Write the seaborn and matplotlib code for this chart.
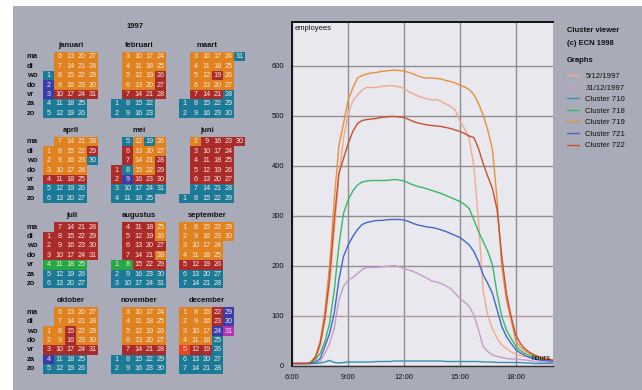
import calendar
import datetime
import numpy as np
import pandas as pd
import matplotlib
matplotlib.use("Agg")
import matplotlib.pyplot as plt
from matplotlib.colors import ListedColormap
from matplotlib.patches import Rectangle
import seaborn as sns

sns.set_style("white")
plt.rcParams['font.family'] = ['Liberation Sans', 'DejaVu Sans']

# ---------------- data ----------------
YEAR = 1997
month_names = ["januari", "februari", "maart", "april", "mei", "juni",
               "juli", "augustus", "september", "oktober", "november", "december"]
weekday_labels = ["ma", "di", "wo", "do", "vr", "za", "zo"]

# cluster of every day, one letter per day (T=710, G=718, O=719, B=721, R=722, S=5/12, M=31/12)
day_clusters = [
    "TBBTT" "OOOORTT" "OOOORTT" "OOOORTT" "OOOOR",          # jan
    "TT" "OOOORTT" "OOOORTT" "OOOORTT" "OORRR",             # feb
    "TT" "OOOORTT" "OOOORTT" "OORORTT" "OOOOTTT" "T",       # maa
    "OOORTT" "OOOORTT" "OOOORTT" "OOOORTT" "ORT",           # apr
    "RRTT" "TRRTBTT" "OOOORTT" "TOOORTT" "OORRRT",          # mei
    "T" "ORRRRTT" "RRRRRTT" "RRRRRTT" "RRRRRTT" "R",        # jun
    "RRRGTT" "RRRRGTT" "RRRRGTT" "RRRRGTT" "RRRR",          # jul
    "GTT" "RRRRGTT" "RRRRRTT" "RRRRRTT" "OOROR" "TT",       # aug
    "OOOORTT" "OOOORTT" "OOOORTT" "OOOORTT" "OO",           # sep
    "OORBT" "OOOORTT" "OORRRTT" "OOOORTT" "OOOOR",          # okt
    "TT" "OOOORTT" "OOOORTT" "OOOORTT" "OOOORTT",           # nov
    "OOOOSTT" "OOOORTT" "OOOORTT" "RRBTTTT" "BBM",          # dec
]
code_letters = ["T", "G", "O", "B", "R", "S", "M"]
cell_colors = ["#1b7a98", "#26a844", "#e0821f", "#3b3cab", "#ab2a2a", "#ef4020", "#b034b4"]

series_names = ["5/12/1997", "31/12/1997", "Cluster 710", "Cluster 718",
                "Cluster 719", "Cluster 721", "Cluster 722"]
line_colors = ["#f2a98a", "#c99bcd", "#3a8fb0", "#38b868", "#e8903c", "#4466c8", "#c8502e"]

hours = np.arange(6.0, 20.01, 0.25)
s_0512 = [5, 5, 5, 5, 7, 15, 40, 92, 165, 270, 380, 455, 505, 530, 542, 552,
          557, 557, 557, 559, 560, 561, 560, 558, 555, 549, 544, 540, 537, 534, 532, 533,
          529, 524, 519, 512, 490, 475, 455, 400, 290, 150, 100, 75, 55, 42, 35, 28,
          24, 21, 19, 18, 16, 15, 14, 13, 12]
s_3112 = [5, 5, 5, 5, 5, 6, 10, 25, 45, 75, 132, 159, 172, 177, 185, 193,
          197, 197, 197, 198, 199, 200, 201, 198, 195, 192, 189, 185, 180, 175, 170, 168,
          165, 160, 155, 145, 135, 128, 119, 102, 72, 39, 29, 22, 19, 17, 15, 14,
          14, 13, 12, 11, 9, 8, 8, 7, 7]
s_710 = [5, 5, 5, 5, 5, 5, 6, 8, 11, 7, 6, 7, 8, 8, 8, 8,
         8, 8, 9, 9, 9, 9, 10, 10, 10, 10, 10, 10, 10, 10, 10, 10,
         10, 9, 9, 9, 9, 9, 9, 9, 9, 8, 8, 8, 7, 7, 7, 7,
         7, 7, 6, 6, 5, 5, 5, 5, 5]
s_718 = [5, 5, 5, 5, 6, 13, 25, 49, 85, 150, 240, 305, 332, 350, 362, 368,
         370, 371, 371, 371, 371, 372, 373, 372, 370, 366, 362, 359, 357, 354, 351, 348,
         345, 341, 337, 333, 329, 323, 315, 292, 269, 249, 229, 202, 145, 99, 72, 55,
         40, 31, 25, 21, 17, 15, 13, 12, 11]
s_719 = [5, 5, 5, 5, 8, 20, 50, 110, 200, 330, 440, 485, 532, 556, 576, 581,
         584, 586, 587, 589, 590, 591, 592, 591, 590, 587, 584, 580, 577, 576, 576, 575,
         574, 571, 569, 566, 562, 558, 553, 543, 525, 502, 472, 432, 332, 199, 132, 92,
         50, 38, 30, 25, 21, 18, 16, 14, 12]
s_721 = [5, 5, 5, 5, 5, 8, 15, 39, 65, 105, 172, 219, 242, 259, 273, 283,
         287, 289, 291, 291, 292, 293, 293, 293, 292, 289, 285, 282, 280, 278, 277, 275,
         272, 269, 265, 261, 257, 250, 242, 229, 209, 182, 165, 145, 112, 79, 59, 45,
         33, 26, 21, 17, 14, 12, 11, 10, 9]
s_722 = [5, 5, 5, 5, 7, 18, 45, 95, 175, 290, 385, 415, 445, 469, 485, 491,
         493, 494, 495, 497, 498, 499, 499, 498, 497, 493, 489, 486, 484, 482, 481, 480,
         479, 477, 475, 472, 469, 465, 460, 457, 435, 405, 379, 355, 312, 219, 145, 99,
         62, 45, 34, 27, 22, 18, 15, 13, 12]
series_values = [s_0512, s_3112, s_710, s_718, s_719, s_721, s_722]

y_ticks = [0, 100, 200, 300, 400, 500, 600]
x_ticks = [6, 9, 12, 15, 18]
x_ticklabels = ["6:00", "9:00", "12:00", "15:00", "18:00"]

# ---------------- figure ----------------
W, H = 642, 390
fig = plt.figure(figsize=(W / 100, H / 100), dpi=100)
fig.patch.set_facecolor("white")
fig.add_artist(Rectangle((13 / W, 0), 1 - 13 / W, 1 - 6 / H, transform=fig.transFigure,
                         facecolor="#a9abb9", edgecolor="none", zorder=-10))

def fx(px):
    return px / W

def fy(py):
    return 1 - py / H

FS = 5.5
CW, CH = 10.95, 9.45
col0s = [43.3, 111.3, 179.3]
tops = [52.0, 137.0, 222.3, 307.4]
cmap = ListedColormap(cell_colors)

fig.text(fx(135), fy(27), str(YEAR), ha="center", va="center", fontsize=FS,
         fontweight="bold", color="#111111")

for m in range(12):
    mr, mc = divmod(m, 3)
    ndays = calendar.monthrange(YEAR, m + 1)[1]
    w0 = datetime.date(YEAR, m + 1, 1).weekday()
    mat = np.full((7, 6), np.nan)
    ann = np.full((7, 6), "", dtype=object)
    for d in range(1, ndays + 1):
        idx = w0 + d - 1
        col, row = divmod(idx, 7)
        mat[row, col] = code_letters.index(day_clusters[m][d - 1])
        ann[row, col] = str(d)
    ax = fig.add_axes([fx(col0s[mc]), fy(tops[mr] + 7 * CH), 6 * CW / W, 7 * CH / H])
    sns.heatmap(mat, mask=np.isnan(mat), cmap=cmap, vmin=-0.5, vmax=6.5, cbar=False,
                annot=ann, fmt="", annot_kws={"fontsize": 5.2, "color": "#f6e9dc"},
                xticklabels=False, yticklabels=False, linewidths=0, ax=ax)
    ax.set_axis_off()
    ax.text(2.55, -0.68, month_names[m], ha="center", va="center", fontsize=FS,
            fontweight="bold", color="#111111")
    if mc == 0:
        for r, lab in enumerate(weekday_labels):
            ax.text((26.7 - col0s[0]) / CW, r + 0.5, lab, ha="left", va="center",
                    fontsize=FS, fontweight="bold", color="#111111")

# ---------------- line chart ----------------
AX_L, AX_R, AX_T, AX_B = 292.3, 553.0, 22.0, 366.0
ax2 = fig.add_axes([fx(AX_L), fy(AX_B), (AX_R - AX_L) / W, (AX_B - AX_T) / H])
ax2.set_facecolor("#e8e8ee")

df = pd.concat([pd.DataFrame({"hour": hours, "employees": vals, "series": name})
                for name, vals in zip(series_names, series_values)], ignore_index=True)
sns.lineplot(data=df, x="hour", y="employees", hue="series", hue_order=series_names,
             palette=dict(zip(series_names, line_colors)), linewidth=1.0, ax=ax2,
             legend=True)
leg = ax2.get_legend()
handles = leg.legend_handles
labels = [t.get_text() for t in leg.get_texts()]
leg.remove()

ax2.set_xlim(6, 20)
ax2.set_ylim(0, 688)
ax2.set_xticks(x_ticks)
ax2.set_xticklabels(x_ticklabels)
ax2.set_xticks(range(6, 21), minor=True)
ax2.set_yticks(y_ticks)
ax2.set_yticklabels([str(v) for v in y_ticks])
ax2.set_yticks(range(0, 700, 50), minor=True)
ax2.tick_params(which="major", direction="out", length=4, width=0.8, labelsize=FS,
                pad=2, colors="#222222", labelcolor="#111111")
ax2.tick_params(which="minor", direction="out", length=3, width=0.6, colors="#333333")
ax2.set_xlabel("")
ax2.set_ylabel("")
ax2.set_axisbelow(True)
ax2.grid(True, which="major", color="#8e8e92", linewidth=1.0)
for gl in ax2.get_ygridlines():
    if abs(gl.get_ydata()[0] - 100) < 1e-6:
        gl.set_color("#b89a9e")
for side in ["left", "top"]:
    ax2.spines[side].set_color("#111111")
    ax2.spines[side].set_linewidth(1.4)
ax2.spines["bottom"].set_color("#333333")
ax2.spines["bottom"].set_linewidth(1.0)
ax2.spines["right"].set_visible(False)

ax2.text((295 - AX_L) / (AX_R - AX_L), 1 - (28 - AX_T) / (AX_B - AX_T), "employees",
         transform=ax2.transAxes, ha="left", va="center", fontsize=FS, color="#111111")
ax2.text((551 - AX_L) / (AX_R - AX_L), (AX_B - 359) / (AX_B - AX_T), "hours",
         transform=ax2.transAxes, ha="right", va="center", fontsize=FS, color="#111111")

# ---------------- legend / side texts ----------------
fig.text(fx(566.7), fy(31), "Cluster viewer", ha="left", va="center", fontsize=FS,
         fontweight="bold", color="#111111")
fig.text(fx(566.7), fy(43.3), "(c) ECN 1998", ha="left", va="center", fontsize=FS,
         fontweight="bold", color="#111111")
fig.text(fx(566.7), fy(60.7), "Graphs", ha="left", va="center", fontsize=FS,
         fontweight="bold", color="#111111")
for h in handles:
    h.set_linewidth(1.0)
lg = fig.legend(handles, labels, loc="upper left", bbox_to_anchor=(fx(566.7), fy(72.5)),
                frameon=False, fontsize=5.6, handlelength=1.55, handletextpad=0.85,
                labelspacing=0.53, borderpad=0, borderaxespad=0)
for t in lg.get_texts():
    t.set_color("#111111")

fig.savefig("out.png", dpi=100)
